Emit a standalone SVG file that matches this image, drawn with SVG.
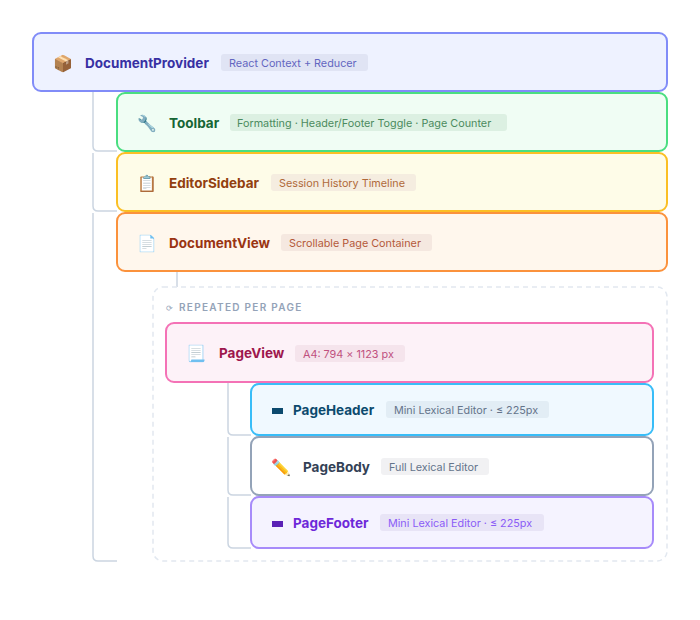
<svg xmlns="http://www.w3.org/2000/svg" width="700" height="620" viewBox="0 0 700 620">
<style>
text{font-family:Inter,"Noto Sans","Liberation Sans",sans-serif}
.t{font-size:13.5px;font-weight:700}
.b{font-size:10.8px}
.i{font-size:16px}
.c{fill:none;stroke:#cbd5e1;stroke-width:1.5}
</style>
<rect width="700" height="620" fill="#fff"/>
<g id="connectors">
<path class="c" d="M93 91V146Q93 151 98 151H117"/>
<path class="c" d="M93 153V206Q93 211 98 211H117"/>
<path class="c" d="M93 213V556Q93 561 98 561H117"/>
<path class="c" d="M177 271V287"/>
<path class="c" d="M228 382V430Q228 435 233 435H251"/>
<path class="c" d="M228 437V490Q228 495 233 495H251"/>
<path class="c" d="M228 497V543Q228 548 233 548H251"/>
</g>
<g id="DocumentProvider">
<rect x="33" y="33" width="634" height="58" rx="8" fill="#eef2ff" stroke="#818cf8" stroke-width="2"/>
<text x="53" y="69" class="i">📦</text>
<text x="85" y="68" class="t" fill="#3730a3">DocumentProvider</text>
<rect x="221" y="54" width="147" height="17" rx="3" fill="#e0e4f4"/>
<text x="229" y="67" class="b" fill="#6366c1">React Context + Reducer</text>
</g>
<g id="Toolbar">
<rect x="117" y="93" width="550" height="58" rx="8" fill="#f0fdf4" stroke="#4ade80" stroke-width="2"/>
<text x="137" y="129" class="i">🔧</text>
<text x="169" y="128" class="t" fill="#166534">Toolbar</text>
<rect x="230" y="114" width="277" height="17" rx="3" fill="#dcf0e2"/>
<text x="237" y="127" class="b" fill="#4b8b5e">Formatting · Header/Footer Toggle · Page Counter</text>
</g>
<g id="EditorSidebar">
<rect x="117" y="153" width="550" height="58" rx="8" fill="#fefce8" stroke="#fbbf24" stroke-width="2"/>
<text x="137" y="189" class="i">📋</text>
<text x="169" y="188" class="t" fill="#92400e">EditorSidebar</text>
<rect x="271" y="174" width="145" height="17" rx="3" fill="#f5ede0"/>
<text x="279" y="187" class="b" fill="#b06a3a">Session History Timeline</text>
</g>
<g id="DocumentView">
<rect x="117" y="213" width="550" height="58" rx="8" fill="#fff7ed" stroke="#fb923c" stroke-width="2"/>
<text x="137" y="249" class="i">📄</text>
<text x="169" y="248" class="t" fill="#9a3412">DocumentView</text>
<rect x="281" y="234" width="151" height="17" rx="3" fill="#f5e8e0"/>
<text x="289" y="247" class="b" fill="#b4593a">Scrollable Page Container</text>
</g>
<g id="RepeatedPerPage">
<rect x="153" y="287" width="514" height="274" rx="10" fill="none" stroke="#e2e8f0" stroke-width="1.5" stroke-dasharray="5 4"/>
<text x="166" y="311" font-size="8" fill="#94a3b8">⟳</text>
<text x="179" y="311" font-size="10" font-weight="600" letter-spacing="1.3" fill="#94a3b8">REPEATED PER PAGE</text>
</g>
<g id="PageView">
<rect x="166" y="323" width="487" height="59" rx="8" fill="#fdf2f8" stroke="#f472b6" stroke-width="2"/>
<text x="186" y="359" class="i">📃</text>
<text x="219" y="358" class="t" fill="#9d174d">PageView</text>
<rect x="295" y="345" width="110" height="17" rx="3" fill="#f5e4ec"/>
<text x="303" y="358" class="b" fill="#c0507e">A4: 794 × 1123 px</text>
</g>
<g id="PageHeader">
<rect x="251" y="384" width="402" height="51" rx="8" fill="#f0f9ff" stroke="#38bdf8" stroke-width="2"/>
<rect x="272" y="408" width="11" height="6" fill="#0c4a6e"/>
<text x="293" y="415" class="t" fill="#0c4a6e">PageHeader</text>
<rect x="386" y="401" width="163" height="17" rx="3" fill="#e2edf5"/>
<text x="394" y="414" class="b" fill="#64748b">Mini Lexical Editor · ≤ 225px</text>
</g>
<g id="PageBody">
<rect x="251" y="437" width="402" height="58" rx="8" fill="#ffffff" stroke="#94a3b8" stroke-width="2"/>
<text x="271" y="473" class="i">✏️</text>
<text x="303" y="472" class="t" fill="#334155">PageBody</text>
<rect x="381" y="458" width="108" height="17" rx="3" fill="#f1f1f3"/>
<text x="389" y="471" class="b" fill="#64748b">Full Lexical Editor</text>
</g>
<g id="PageFooter">
<rect x="251" y="497" width="402" height="51" rx="8" fill="#f5f3ff" stroke="#a78bfa" stroke-width="2"/>
<rect x="272" y="521" width="11" height="6" fill="#5b21b6"/>
<text x="293" y="528" class="t" fill="#6d28d9">PageFooter</text>
<rect x="380" y="514" width="164" height="17" rx="3" fill="#e8e4f6"/>
<text x="388" y="527" class="b" fill="#8b5cf6">Mini Lexical Editor · ≤ 225px</text>
</g>
</svg>
